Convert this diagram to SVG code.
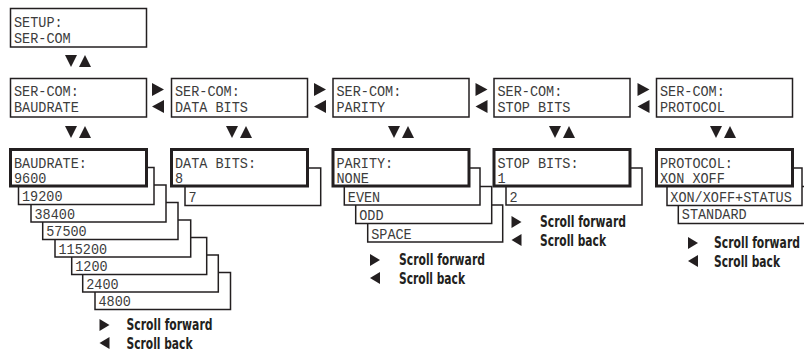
<svg xmlns="http://www.w3.org/2000/svg" width="804" height="354" viewBox="0 0 804 354">
<style>
.box{fill:#fff;stroke:#231f20;stroke-width:1.5}
.main{fill:#fff;stroke:#231f20;stroke-width:3}
.mono{font-family:"Liberation Mono","DejaVu Sans Mono",monospace;font-size:14.8px;fill:#3c3c3c}
.leg{font-family:"Liberation Sans Narrow","DejaVu Sans Condensed","Liberation Sans",sans-serif;font-weight:bold;font-size:15.5px;fill:#231f20}
.tri{fill:#231f20}
</style>
<defs>
<path id="tr" d="M-6,-6.5 L6,0 L-6,6.5 Z"/>
<path id="tl" d="M6,-6.5 L-6,0 L6,6.5 Z"/>
<path id="td" d="M-6,-6 L6,-6 L0,6 Z"/>
<path id="tu" d="M-6,6 L6,6 L0,-6 Z"/>
<path id="lr" d="M-5,-6 L5,0 L-5,6 Z"/>
<path id="ll" d="M5,-6 L-5,0 L5,6 Z"/>
</defs>
<rect width="804" height="354" fill="#fff"/>

<g id="setup">
<rect class="box" x="10.5" y="8.5" width="136" height="38.5"/>
<text class="mono" x="14" y="26.5" textLength="48.6" lengthAdjust="spacingAndGlyphs">SETUP:</text>
<text class="mono" x="14" y="42.5" textLength="56.7" lengthAdjust="spacingAndGlyphs">SER-COM</text>
</g>

<g id="sercom-baudrate">
<rect class="box" x="10.5" y="78.5" width="136" height="38.5"/>
<text class="mono" x="14" y="96" textLength="64.8" lengthAdjust="spacingAndGlyphs">SER-COM:</text>
<text class="mono" x="14" y="112" textLength="64.8" lengthAdjust="spacingAndGlyphs">BAUDRATE</text>
</g>
<g id="sercom-databits">
<rect class="box" x="171.5" y="78.5" width="136" height="38.5"/>
<text class="mono" x="175" y="96" textLength="64.8" lengthAdjust="spacingAndGlyphs">SER-COM:</text>
<text class="mono" x="175" y="112" textLength="72.9" lengthAdjust="spacingAndGlyphs">DATA BITS</text>
</g>
<g id="sercom-parity">
<rect class="box" x="333" y="78.5" width="136" height="38.5"/>
<text class="mono" x="336.5" y="96" textLength="64.8" lengthAdjust="spacingAndGlyphs">SER-COM:</text>
<text class="mono" x="336.5" y="112" textLength="48.6" lengthAdjust="spacingAndGlyphs">PARITY</text>
</g>
<g id="sercom-stopbits">
<rect class="box" x="494" y="78.5" width="136" height="38.5"/>
<text class="mono" x="497.5" y="96" textLength="64.8" lengthAdjust="spacingAndGlyphs">SER-COM:</text>
<text class="mono" x="497.5" y="112" textLength="72.9" lengthAdjust="spacingAndGlyphs">STOP BITS</text>
</g>
<g id="sercom-protocol">
<rect class="box" x="656.5" y="78.5" width="136" height="38.5"/>
<text class="mono" x="660" y="96" textLength="64.8" lengthAdjust="spacingAndGlyphs">SER-COM:</text>
<text class="mono" x="660" y="112" textLength="64.8" lengthAdjust="spacingAndGlyphs">PROTOCOL</text>
</g>

<g id="baudrate-list">
<rect class="box" x="95" y="272.5" width="135.5" height="37"/>
<text class="mono" x="98.5" y="306" textLength="32.4" lengthAdjust="spacingAndGlyphs">4800</text>
<rect class="box" x="82.7" y="255" width="135.6" height="37"/>
<text class="mono" x="86.2" y="288.5" textLength="32.4" lengthAdjust="spacingAndGlyphs">2400</text>
<rect class="box" x="71.7" y="237.5" width="135" height="37"/>
<text class="mono" x="75.2" y="271" textLength="32.4" lengthAdjust="spacingAndGlyphs">1200</text>
<rect class="box" x="55" y="220" width="135.7" height="37"/>
<text class="mono" x="58.5" y="253.5" textLength="48.6" lengthAdjust="spacingAndGlyphs">115200</text>
<rect class="box" x="42.7" y="202.5" width="135.3" height="37"/>
<text class="mono" x="46.2" y="236" textLength="40.5" lengthAdjust="spacingAndGlyphs">57500</text>
<rect class="box" x="31" y="185" width="135" height="37"/>
<text class="mono" x="34.5" y="218.5" textLength="40.5" lengthAdjust="spacingAndGlyphs">38400</text>
<rect class="box" x="18.5" y="167.5" width="135.5" height="37"/>
<text class="mono" x="22" y="201" textLength="40.5" lengthAdjust="spacingAndGlyphs">19200</text>
<rect class="main" x="10.5" y="149.5" width="136" height="36.5"/>
<text class="mono" x="14" y="167.5" textLength="72.9" lengthAdjust="spacingAndGlyphs">BAUDRATE:</text>
<text class="mono" x="14" y="183" textLength="32.4" lengthAdjust="spacingAndGlyphs">9600</text>
</g>

<g id="databits-list">
<rect class="box" x="185" y="168" width="135.7" height="37.5"/>
<text class="mono" x="188.5" y="202" textLength="8.1" lengthAdjust="spacingAndGlyphs">7</text>
<rect class="main" x="171.5" y="149.5" width="136" height="36.5"/>
<text class="mono" x="175" y="167.5" textLength="81" lengthAdjust="spacingAndGlyphs">DATA BITS:</text>
<text class="mono" x="175" y="183" textLength="8.1" lengthAdjust="spacingAndGlyphs">8</text>
</g>

<g id="parity-list">
<rect class="box" x="367.7" y="205" width="135" height="37"/>
<text class="mono" x="371.2" y="238.5" textLength="40.5" lengthAdjust="spacingAndGlyphs">SPACE</text>
<rect class="box" x="355.7" y="186.5" width="136" height="37"/>
<text class="mono" x="359.2" y="220" textLength="24.3" lengthAdjust="spacingAndGlyphs">ODD</text>
<rect class="box" x="344.3" y="168" width="135.7" height="37"/>
<text class="mono" x="347.8" y="201.5" textLength="32.4" lengthAdjust="spacingAndGlyphs">EVEN</text>
<rect class="main" x="333" y="149.5" width="136" height="36.5"/>
<text class="mono" x="336.5" y="167.5" textLength="56.7" lengthAdjust="spacingAndGlyphs">PARITY:</text>
<text class="mono" x="336.5" y="183" textLength="32.4" lengthAdjust="spacingAndGlyphs">NONE</text>
</g>

<g id="stopbits-list">
<rect class="box" x="506" y="168" width="136" height="37"/>
<text class="mono" x="509.5" y="201.5" textLength="8.1" lengthAdjust="spacingAndGlyphs">2</text>
<rect class="main" x="494" y="149.5" width="136" height="36.5"/>
<text class="mono" x="497.5" y="167.5" textLength="81" lengthAdjust="spacingAndGlyphs">STOP BITS:</text>
<text class="mono" x="497.5" y="183" textLength="8.1" lengthAdjust="spacingAndGlyphs">1</text>
</g>

<g id="protocol-list">
<rect class="box" x="678.3" y="186.5" width="140" height="37"/>
<text class="mono" x="681.8" y="219" textLength="64.8" lengthAdjust="spacingAndGlyphs">STANDARD</text>
<rect class="box" x="667" y="168" width="135" height="37.5"/>
<text class="mono" x="670.3" y="201.5" textLength="121.5" lengthAdjust="spacingAndGlyphs">XON/XOFF+STATUS</text>
<rect class="main" x="656.5" y="149.5" width="136" height="36.5"/>
<text class="mono" x="660" y="167.5" textLength="72.9" lengthAdjust="spacingAndGlyphs">PROTOCOL:</text>
<text class="mono" x="660" y="183" textLength="64.8" lengthAdjust="spacingAndGlyphs">XON XOFF</text>
</g>

<g id="connectors" class="tri">
<use href="#td" x="71" y="61"/><use href="#tu" x="85" y="61"/>
<use href="#td" x="71" y="132"/><use href="#tu" x="85" y="132"/>
<use href="#td" x="232" y="132"/><use href="#tu" x="246" y="132"/>
<use href="#td" x="394" y="132"/><use href="#tu" x="408" y="132"/>
<use href="#td" x="555" y="132"/><use href="#tu" x="569" y="132"/>
<use href="#td" x="716" y="132"/><use href="#tu" x="730" y="132"/>
<use href="#tr" x="158" y="89.5"/><use href="#tl" x="158" y="106.5"/>
<use href="#tr" x="320" y="89.5"/><use href="#tl" x="320" y="106.5"/>
<use href="#tr" x="481.5" y="89.5"/><use href="#tl" x="481.5" y="106.5"/>
<use href="#tr" x="643.5" y="89.5"/><use href="#tl" x="643.5" y="106.5"/>
</g>

<g id="legend-baudrate">
<use class="tri" href="#lr" x="104.5" y="325"/><use class="tri" href="#ll" x="104.5" y="343"/>
<text class="leg" x="126.5" y="330" textLength="86" lengthAdjust="spacingAndGlyphs">Scroll forward</text>
<text class="leg" x="126.5" y="349" textLength="66" lengthAdjust="spacingAndGlyphs">Scroll back</text>
</g>
<g id="legend-parity">
<use class="tri" href="#lr" x="375" y="260"/><use class="tri" href="#ll" x="375" y="278"/>
<text class="leg" x="399" y="265" textLength="86" lengthAdjust="spacingAndGlyphs">Scroll forward</text>
<text class="leg" x="399" y="284" textLength="66" lengthAdjust="spacingAndGlyphs">Scroll back</text>
</g>
<g id="legend-stopbits">
<use class="tri" href="#lr" x="516.5" y="222"/><use class="tri" href="#ll" x="516.5" y="240"/>
<text class="leg" x="540" y="227" textLength="86" lengthAdjust="spacingAndGlyphs">Scroll forward</text>
<text class="leg" x="540" y="246" textLength="66" lengthAdjust="spacingAndGlyphs">Scroll back</text>
</g>
<g id="legend-protocol">
<use class="tri" href="#lr" x="693" y="243"/><use class="tri" href="#ll" x="693" y="261"/>
<text class="leg" x="714" y="248" textLength="86" lengthAdjust="spacingAndGlyphs">Scroll forward</text>
<text class="leg" x="714" y="267" textLength="66" lengthAdjust="spacingAndGlyphs">Scroll back</text>
</g>
</svg>
